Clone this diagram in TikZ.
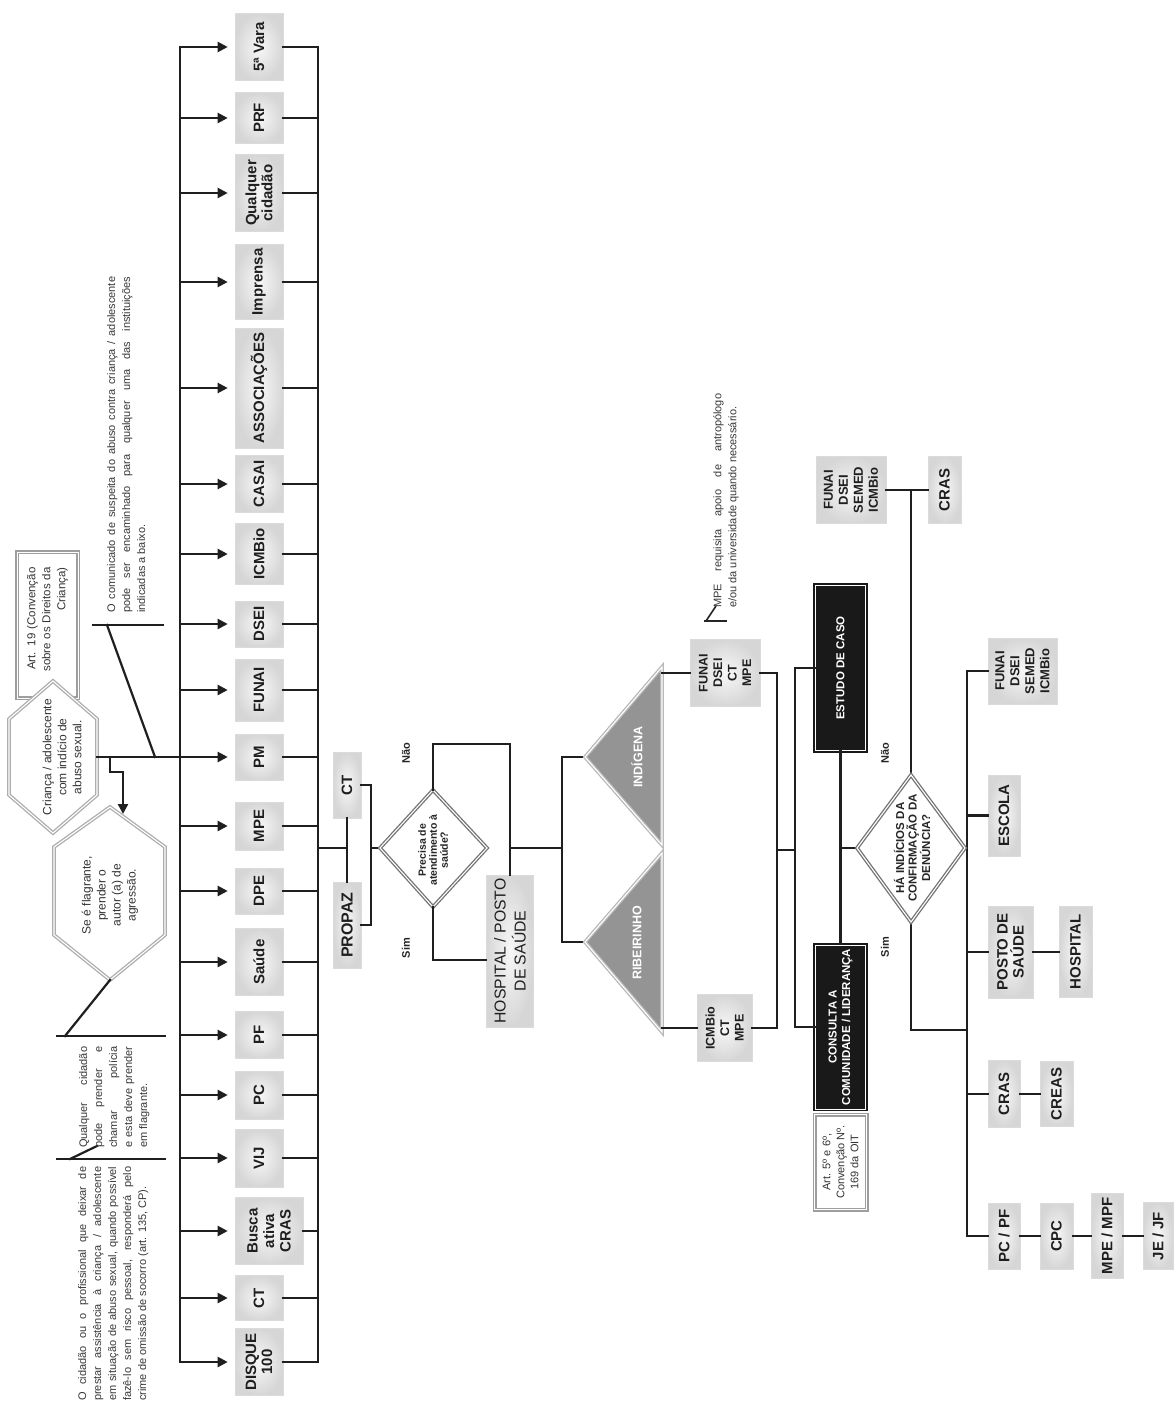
\documentclass[tikz,border=0pt]{standalone}
\usepackage{fontspec}
\setmainfont{Liberation Sans}
\usetikzlibrary{arrows.meta}
\begin{document}
\begin{tikzpicture}[x=1pt,y=-1pt,
  ln/.style={line width=2.2pt, draw=black!88, line cap=rect},
  arr/.style={line width=2.2pt, draw=black!88, -{Triangle[length=10pt,width=10pt]}},
  box/.style={rotate=90, draw=black!14, line width=0.6pt, inner color=black!3, outer color=black!16,
    inner sep=0pt, align=center, text=black!88, font=\bfseries\fontsize{15}{16}\selectfont},
  sfont/.style={font=\bfseries\fontsize{12.5}{14.5}\selectfont},
  mfont/.style={font=\bfseries\fontsize{13}{15}\selectfont},
  sz/.style 2 args={minimum height=#1, minimum width=#2},
  bbox/.style={rotate=90, fill=black!90, draw=black!90, line width=2pt, double=white, double distance=0.9pt,
    text=white, align=center, inner sep=0pt, font=\bfseries\fontsize{11.5}{13.5}\selectfont},
  gbox/.style={rotate=90, fill=white, draw=black!38, line width=1.5pt, double=white, double distance=1pt,
    inner sep=0pt, align=center, text=black!80},
  dia/.style={fill=white, draw=black!55, line width=1.3pt, double=white, double distance=1.1pt},
  tri/.style={fill=black!42, draw=black!28, line width=1.3pt, double=white, double distance=1.1pt},
  hexa/.style={fill=white, draw=black!32, line width=1.3pt, double=white, double distance=1.1pt},
  lbl/.style={rotate=90, font=\bfseries\fontsize{11}{12}\selectfont, text=black!85},
  note/.style={rotate=90, inner sep=0pt, anchor=north west, align=justify, text=black!78,
    font=\fontsize{11}{15}\selectfont}
]
\fill[white] (0,0) rectangle (1174,1415);
\useasboundingbox (0,0) rectangle (1174,1415);

% ---------------- left column of institutions ----------------
\coordinate (busL) at (180,0);
\coordinate (busR) at (318,0);
\node[box, sz={48}{67}] (v5) at (259,47) {5ª Vara};
\node[box, sz={48}{51}] (prf) at (259,118) {PRF};
\node[box, sz={48}{77}] (qc) at (259,193) {Qualquer\\cidadão};
\node[box, sz={48}{75}] (imp) at (259,282) {Imprensa};
\node[box, sz={48}{120}] (assoc) at (259,388) {ASSOCIAÇÕES};
\node[box, sz={48}{57}] (casai) at (259,484) {CASAI};
\node[box, sz={48}{61}] (icmb) at (259,554) {ICMBio};
\node[box, sz={48}{46}] (dsei) at (259,624) {DSEI};
\node[box, sz={48}{62}] (funai) at (259,690) {FUNAI};
\node[box, sz={48}{46}] (pm) at (259,757) {PM};
\node[box, sz={48}{48}] (mpe) at (259,826) {MPE};
\node[box, sz={48}{46}] (dpe) at (259,891) {DPE};
\node[box, sz={48}{67}] (saude) at (259,962) {Saúde};
\node[box, sz={48}{47}] (pf) at (259,1035) {PF};
\node[box, sz={48}{48}] (pc) at (259,1095) {PC};
\node[box, sz={48}{58}] (vij) at (259,1158) {VIJ};
\node[box, sz={68}{67}, font=\bfseries\fontsize{15}{16.5}\selectfont] (busca) at (269,1231) {Busca\\ativa\\CRAS};
\node[box, sz={48}{45}] (ctl) at (259,1298) {CT};
\node[box, sz={48}{67}] (disque) at (259,1362) {DISQUE\\100};

\foreach \b in {v5,prf,qc,imp,assoc,casai,icmb,dsei,funai,pm,mpe,dpe,saude,pf,pc,vij,busca,ctl,disque}{
  \draw[arr, shorten >=7pt] (busL |- \b.north) -- (\b.north);
  \draw[ln] (\b.south) -- (busR |- \b.south);
}
\draw[ln] (busL |- v5.north) -- (busL |- disque.north);
\draw[ln] (busR |- v5.south) -- (busR |- disque.south);

% ---------------- left annotations ----------------
\node[gbox, sz={61}{146}, text width=115, align=right, font=\fontsize{11.5}{15}\selectfont] (art19) at (47.5,625)
  {Art. 19 (Convenção\\sobre os Direitos da\\Criança)};
\draw[hexa] (53,681) -- (97,719) -- (97,795) -- (53,833) -- (9,795) -- (9,719) -- cycle;
\node[rotate=90, align=center, text=black!80, font=\fontsize{12}{15}\selectfont] (crianca) at (62,757)
  {Criança / adolescente\\com indício de\\abuso sexual.};
\coordinate (hexR) at (97,757);
\draw[ln] (hexR) -- (busL |- hexR);

\draw[hexa] (110,807) -- (165,847) -- (165,935) -- (110,980) -- (54,935) -- (54,847) -- cycle;
\node[rotate=90, align=center, text=black!80, font=\fontsize{12}{15}\selectfont] (flag) at (110,895)
  {Se é flagrante,\\prender o\\autor (a) de\\agressão.};
\coordinate (fj) at (110,757);
\coordinate (flagin) at (123,814);
\draw[arr] (fj) -- ++(0,15) -| (flagin);

\coordinate (cj) at (155,757);
\draw[ln] (93,625) -- (163,625);
\draw[ln] (107,625) -- (cj);
\node[note, text width=336] (com) at (107,613)
  {O comunicado de suspeita do abuso contra criança / adolescente\linebreak pode ser encaminhado para qualquer uma das instituições\linebreak indicadas a baixo.};

\coordinate (flagB) at (110,980);
\draw[ln] (57,1036) -- (165,1036);
\draw[ln] (65,1036) -- (flagB);
\draw[ln] (57,1159) -- (165,1159);
\draw[ln] (70,1159) -- (97,1146);
\node[note, text width=101] (qq) at (79,1148)
  {Qualquer cidadão\linebreak pode prender e\linebreak chamar polícia\linebreak e esta deve prender\linebreak em flagrante.};
\node[note, text width=234] (omis) at (78,1401)
  {O cidadão ou o profissional que deixar de\linebreak prestar assistência à criança / adolescente\linebreak em situação de abuso sexual, quando possível\linebreak fazê-lo sem risco pessoal, responderá pelo\linebreak crime de omissão de socorro (art. 135, CP).};

% ---------------- CT / PROPAZ and first decision ----------------
\node[box, sz={28}{66}] (ct2) at (347,785) {CT};
\node[box, sz={28}{86}, font=\bfseries\fontsize{16}{16}\selectfont] (propaz) at (347,925) {PROPAZ};
\coordinate (cpj) at (347,848);
\coordinate (brk) at (371,848);
\draw[ln] (busR |- cpj) -- (cpj);
\draw[ln] (ct2.west) -- (propaz.east);
\draw[ln] (ct2.south) -| (brk) |- (propaz.south);

\coordinate (d1t) at (433,790);
\coordinate (d1r) at (487,848);
\coordinate (d1b) at (433,907);
\coordinate (d1l) at (380,848);
\draw[ln] (brk) -- (d1l);
\draw[dia] (d1t) -- (d1r) -- (d1b) -- (d1l) -- cycle;
\node[rotate=90, align=center, text=black!85, font=\bfseries\fontsize{10.5}{11}\selectfont] (d1txt) at (433,850)
  {Precisa de\\atendimento à\\saúde?};
\node[lbl] (nao1) at (406,753) {Não};
\node[lbl] (sim1) at (406,948) {Sim};

\node[box, sz={47}{152}, font=\fontsize{15.8}{20}\selectfont] (hosp1) at (510,951) {HOSPITAL / POSTO\\DE SAÚDE};
\coordinate (nao1c) at (433,744);
\draw[ln] (d1t) -- (nao1c) -| (hosp1.east);
\draw[ln] (d1b) |- ([yshift=-9pt]hosp1.north);

\coordinate (j1) at (510,848);
\coordinate (j2) at (562,848);
\coordinate (t1a) at (585,757);
\coordinate (t2a) at (585,942);
\draw[ln] (j1) -- (j2);
\draw[ln] (t1a) -| (j2) |- (t2a);

% ---------------- triangles ----------------
\draw[tri] (t1a) -- (662,667) -- (662,845) -- cycle;
\draw[tri] (t2a) -- (662,853) -- (662,1032) -- cycle;
\node[rotate=90, text=white, font=\bfseries\fontsize{12.5}{13}\selectfont] (ind) at (637,757) {INDÍGENA};
\node[rotate=90, text=white, font=\bfseries\fontsize{12.5}{13}\selectfont] (rib) at (637,943) {RIBEIRINHO};
\coordinate (t1b) at (662,673);
\coordinate (t2b) at (662,1028);

\node[box, sz={70}{67}, sfont] (fdcm) at (725,673) {FUNAI\\DSEI\\CT\\MPE};
\node[box, sz={55}{67}, sfont] (icm) at (724.5,1028) {ICMBio\\CT\\MPE};
\draw[ln] (t1b) -- (fdcm.north);
\draw[ln] (t2b) -- (icm.north);
\coordinate (j3) at (777,850);
\coordinate (j4) at (795,850);
\draw[ln] (fdcm.south) -| (j3) |- (icm.south);
\draw[ln] (j3) -- (j4);

% MPE note
\draw[line width=1.6pt, draw=black!85] (704,621) -- (727,621);
\draw[line width=1.6pt, draw=black!85] (706,621) -- (716,606);
\node[note, text width=214] (mpenote) at (713,608)
  {MPE requisita apoio de antropólogo\linebreak e/ou da universidade quando necessário.};

% ---------------- case study ----------------
\node[bbox, sz={50}{165}] (estudo) at (840.5,668) {ESTUDO DE CASO};
\node[bbox, sz={50}{164}] (consulta) at (840.5,1027) {CONSULTA A\\COMUNIDADE / LIDERANÇA};
\node[gbox, sz={52}{95}, font=\fontsize{11}{14}\selectfont] (art5) at (840.5,1162) {Art. 5º e 6º,\\Convenção Nº.\\169 da OIT};
\draw[ln] (estudo.north) -| (j4) |- (consulta.north);
\draw[ln] (estudo.west) -- (consulta.east);

\coordinate (d2t) at (911,775);
\coordinate (d2r) at (965,848);
\coordinate (d2b) at (911,922);
\coordinate (d2l) at (857,848);
\draw[ln] (estudo.west |- d2l) -- (d2l);

% top branch (Não)
\node[box, sz={70}{67}, mfont] (fdsi) at (851,490) {FUNAI\\DSEI\\SEMED\\ICMBio};
\node[box, sz={33}{67}] (cras1) at (944.5,490) {CRAS};
\draw[ln] (fdsi.south) -- (cras1.north);
\draw[ln] (d2t) -- (d2t |- fdsi.south);

% bottom branch (Sim)
\coordinate (busB) at (967,0);
\coordinate (sj) at (967,1030);
\node[box, sz={69}{66}, mfont] (fdsi2) at (1022.5,671) {FUNAI\\DSEI\\SEMED\\ICMBio};
\node[box, sz={32}{81}] (escola) at (1004,815.5) {ESCOLA};
\node[box, sz={45}{92}] (posto) at (1010.5,952) {POSTO DE\\SAÚDE};
\node[box, sz={33}{91}] (hosp) at (1075.5,952) {HOSPITAL};
\node[box, sz={32}{67}] (cras2) at (1004,1094) {CRAS};
\node[box, sz={33}{65}] (creas) at (1056.5,1094) {CREAS};
\node[box, sz={32}{66}] (pcpf) at (1004,1236) {PC / PF};
\node[box, sz={33}{66}] (cpc) at (1056.5,1236) {CPC};
\node[box, sz={32}{85}] (mpemf) at (1107,1236) {MPE / MPF};
\node[box, sz={30}{67}] (jejf) at (1158,1236) {JE / JF};

\draw[ln] (busB |- fdsi2.north) -- (busB |- pcpf.north);
\foreach \b in {fdsi2,escola,posto,cras2,pcpf}{
  \draw[ln] (busB |- \b.north) -- (\b.north);
}
\draw[ln] (posto.south) -- (hosp.north);
\draw[ln] (cras2.south) -- (creas.north);
\draw[ln] (pcpf.south) -- (cpc.north);
\draw[ln] (cpc.south) -- (mpemf.north);
\draw[ln] (mpemf.south) -- (jejf.north);
\draw[ln] (d2b) |- (sj);

\draw[dia] (d2t) -- (d2r) -- (d2b) -- (d2l) -- cycle;
\node[rotate=90, align=center, text=black!85, font=\bfseries\fontsize{11.5}{12.5}\selectfont] (d2txt) at (912,848)
  {HÁ INDÍCIOS DA\\CONFIRMAÇÃO DA\\DENÚNCIA?};
\node[lbl] (nao2) at (885,753) {Não};
\node[lbl] (sim2) at (885,947) {Sim};
\end{tikzpicture}
\end{document}
